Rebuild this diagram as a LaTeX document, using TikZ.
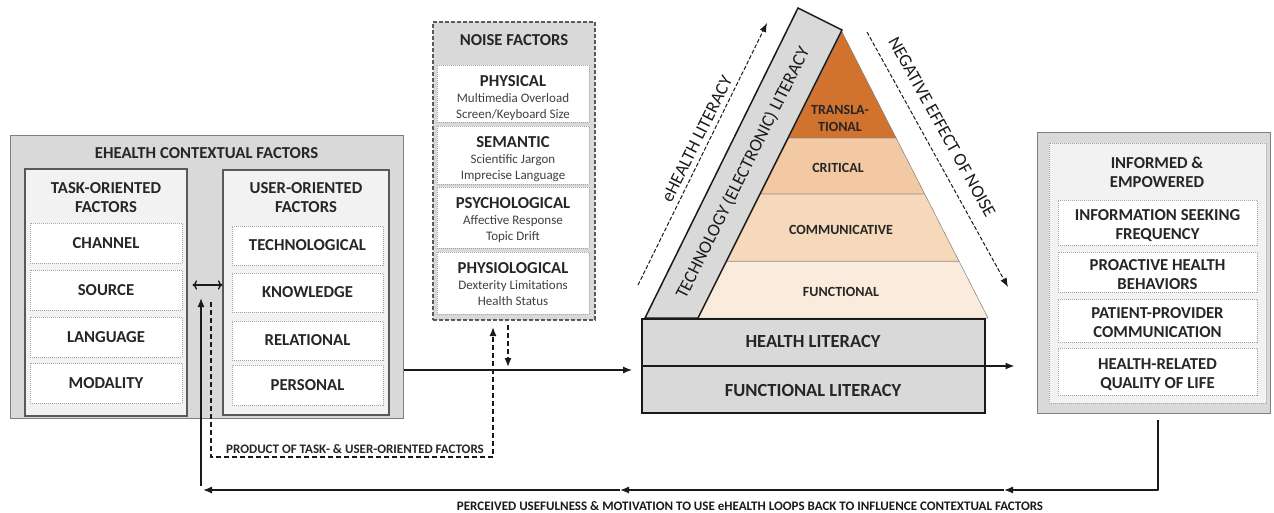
\documentclass[tikz,border=0pt]{standalone}
\usepackage{fontspec}
\setmainfont{Carlito}
\usetikzlibrary{arrows.meta,calc}
\definecolor{gfill}{HTML}{D9D9D9}
\definecolor{gin}{HTML}{F2F2F2}
\definecolor{gline}{HTML}{7F7F7F}
\definecolor{gdark}{HTML}{595959}
\definecolor{gdot}{HTML}{A6A6A6}
\definecolor{txt}{HTML}{262626}
\definecolor{subtxt}{HTML}{404040}
\definecolor{ptrans}{HTML}{D2722F}
\definecolor{pcrit}{HTML}{F2C9A3}
\definecolor{pcomm}{HTML}{F6D8BB}
\definecolor{pfunc}{HTML}{FBEBDC}
\definecolor{ink}{HTML}{1A1A1A}
\newcommand\fsz[2]{\fontsize{#1}{#2}\selectfont}
\begin{document}
\begin{tikzpicture}[x=1pt,y=-1pt,
 outerbox/.style={draw=gline, line width=1pt, fill=gfill, inner sep=0pt},
 groupbox/.style={draw=gdark, line width=1.2pt, fill=gin, inner sep=0pt},
 itembox/.style={draw=gdot, line width=0.7pt, dash pattern=on 1pt off 1pt, fill=white, inner sep=0pt, align=center, text=txt, font=\bfseries\fsz{16.7}{19}},
 ttl/.style={align=center, text=txt, font=\bfseries\fsz{16.7}{19}, inner sep=0pt},
 noisetext/.style={align=center, inner sep=0pt, text=subtxt, font=\fsz{13}{16}},
 lvl/.style={draw=gline, line width=0.5pt},
 lvltext/.style={text=txt, font=\bfseries\fsz{14}{17}, align=center, inner sep=0pt},
 rottext/.style={text=ink, font=\fsz{18}{20}, inner sep=0pt},
 arr/.style={draw=ink, line width=1.3pt, line join=round, -{Latex[length=9pt,width=7pt]}},
 darr/.style={draw=ink, line width=1.3pt, dash pattern=on 5pt off 3pt, -{Latex[length=9pt,width=7pt]}},
 thindarr/.style={draw=ink, line width=1pt, dash pattern=on 4pt off 2pt, -{Latex[length=9pt,width=7pt]}},
 captxt/.style={text=ink, font=\bfseries\fsz{13}{15}, inner sep=0pt},
]
\useasboundingbox (0,0) rectangle (1274,512);

% ---- eHealth contextual factors
\node[outerbox, minimum width=393pt, minimum height=283pt] (ctx) at (206.5,276.5) {};
\node[ttl] (ctxt) at (206.5,153) {EHEALTH CONTEXTUAL FACTORS};
\node[groupbox, minimum width=162pt, minimum height=247pt] (task) at (106,292.5) {};
\node[ttl] (taskt) at (106,197.5) {TASK-ORIENTED\\FACTORS};
\node[groupbox, minimum width=166pt, minimum height=245pt] (user) at (306,292.5) {};
\node[ttl] (usert) at (306,197.5) {USER-ORIENTED\\FACTORS};
\node[itembox, minimum width=152pt, minimum height=40pt] (chan) at (106,243) {CHANNEL};
\node[itembox, minimum width=152pt, minimum height=40pt] (src) at (106,290) {SOURCE};
\node[itembox, minimum width=152pt, minimum height=40pt] (lang) at (106,337) {LANGUAGE};
\node[itembox, minimum width=152pt, minimum height=40pt] (moda) at (106,383) {MODALITY};
\node[itembox, minimum width=151pt, minimum height=39pt] (tech) at (307.5,245.5) {TECHNOLOGICAL};
\node[itembox, minimum width=151pt, minimum height=39pt] (know) at (307.5,292.5) {KNOWLEDGE};
\node[itembox, minimum width=151pt, minimum height=39pt] (rela) at (307.5,340.5) {RELATIONAL};
\node[itembox, minimum width=151pt, minimum height=40pt] (pers) at (307.5,385) {PERSONAL};

% ---- noise factors
\node[outerbox, draw=gdark, dash pattern=on 4pt off 2pt, line width=1.2pt, minimum width=162pt, minimum height=298pt] (noise) at (514,171) {};
\node[ttl] (noiset) at (514,40) {NOISE FACTORS};
\node[itembox, minimum width=152pt, minimum height=57pt] (phys) at (513,93.5) {};
\node[itembox, minimum width=152pt, minimum height=58pt] (sema) at (513,155) {};
\node[itembox, minimum width=152pt, minimum height=61pt] (psyc) at (513,217.5) {};
\node[itembox, minimum width=152pt, minimum height=62pt] (phsl) at (513,283) {};
\node[noisetext] (physt) at (513,98) {{\color{txt}\bfseries\fsz{16.7}{17}PHYSICAL}\\Multimedia Overload\\Screen/Keyboard Size};
\node[noisetext] (semat) at (513,159) {{\color{txt}\bfseries\fsz{16.7}{17}SEMANTIC}\\Scientific Jargon\\Imprecise Language};
\node[noisetext] (psyct) at (513,220.5) {{\color{txt}\bfseries\fsz{16.7}{17}PSYCHOLOGICAL}\\Affective Response\\Topic Drift};
\node[noisetext] (phslt) at (513,284.5) {{\color{txt}\bfseries\fsz{16.7}{17}PHYSIOLOGICAL}\\Dexterity Limitations\\Health Status};

% ---- outcomes
\node[outerbox, minimum width=233pt, minimum height=281pt] (out) at (1153.5,272.5) {};
\node[draw=gdot, dash pattern=on 1pt off 1pt, fill=gin, line width=0.7pt, minimum width=217pt, minimum height=260pt, inner sep=0pt] (outin) at (1157.5,273) {};
\node[ttl] (outt) at (1157,172) {INFORMED \&\\EMPOWERED};
\node[itembox, minimum width=199pt, minimum height=45pt] (isf) at (1157.5,222.5) {};
\node[itembox, minimum width=199pt, minimum height=40pt] (pro) at (1157.5,272) {};
\node[itembox, minimum width=199pt, minimum height=43pt] (ppc) at (1157.5,320.5) {};
\node[itembox, minimum width=199pt, minimum height=47pt] (hrq) at (1157.5,371.5) {};
\node[ttl] (isft) at (1157.5,225.5) {INFORMATION SEEKING\\FREQUENCY};
\node[ttl] (prot) at (1157.5,274.5) {PROACTIVE HEALTH\\BEHAVIORS};
\node[ttl] (ppct) at (1157.5,323) {PATIENT-PROVIDER\\COMMUNICATION};
\node[ttl] (hrqt) at (1157.5,375) {HEALTH-RELATED\\QUALITY OF LIFE};

% ---- pyramid
\coordinate (apex) at (842,32);
\coordinate (bl) at (698,318);
\coordinate (br) at (988,318);
\coordinate (l1) at ($(apex)!0.3706!(bl)$);
\coordinate (r1) at ($(apex)!0.3706!(br)$);
\coordinate (l2) at ($(apex)!0.5664!(bl)$);
\coordinate (r2) at ($(apex)!0.5664!(br)$);
\coordinate (l3) at ($(apex)!0.8007!(bl)$);
\coordinate (r3) at ($(apex)!0.8007!(br)$);
\draw[lvl, fill=pfunc] (l3) -- (r3) -- (br) -- (bl) -- cycle;
\draw[lvl, fill=pcomm] (l2) -- (r2) -- (r3) -- (l3) -- cycle;
\draw[lvl, fill=pcrit] (l1) -- (r1) -- (r2) -- (l2) -- cycle;
\draw[lvl, fill=ptrans] (apex) -- (r1) -- (l1) -- cycle;
\node[lvltext] (ltrans) at (840,118) {TRANSLA-\\TIONAL};
\node[lvltext] (lcrit) at (838,168) {CRITICAL};
\node[lvltext] (lcomm) at (841,230) {COMMUNICATIVE};
\node[lvltext] (lfunc) at (841,292) {FUNCTIONAL};

\draw[line width=1.5pt, draw=ink, fill=gfill, line join=miter] (645,318) -- (698,318) -- (842,30) -- (798,8) -- cycle;
\node[rottext, rotate=63.5] (techlit) at (743,173) {TECHNOLOGY (ELECTRONIC) LITERACY};

\coordinate (e1) at (638,285);
\coordinate (e2) at (767,23);
\draw[thindarr] (e1) -- (e2);
\node[rottext, rotate=63.5] (ehl) at (697,139) {eHEALTH LITERACY};
\coordinate (n1) at (867,32);
\coordinate (n2) at (1008,287);
\draw[thindarr] (n1) -- (n2);
\node[rottext, rotate=-61] (neg) at (942,127) {NEGATIVE EFFECT OF NOISE};

% ---- literacy base
\node[draw=ink, line width=1.8pt, fill=gfill, minimum width=343pt, minimum height=94pt, inner sep=0pt] (lit) at (813.5,366) {};
\node[ttl, font=\bfseries\fsz{18.5}{20}] (hl) at (813,341) {HEALTH LITERACY};
\node[ttl, font=\bfseries\fsz{18.5}{20}] (fl) at (813,390) {FUNCTIONAL LITERACY};
\draw[arr, shorten >=22pt] (lit.west) -- (out.west |- lit.west);

% ---- connectors
\draw[arr, <->, shorten <=5pt] (task.east |- 0,285) -- (user.west |- 0,285);
\draw[arr, shorten >=9pt] (ctx.east |- 0,370) -- (lit.west |- 0,370);

\coordinate (vb) at (201,486);
\coordinate (vt) at (201,298);
\draw[arr] (vb) -- (vt);

\coordinate (p1) at (211,302);
\coordinate (p2) at (211,457);
\coordinate (p3) at (493,457);
\coordinate (p4) at (493,327);
\draw[darr] (p1) -- (p2) -- (p3) -- (p4);
\node[captxt, text=txt] (prod) at (355,449) {PRODUCT OF TASK- \& USER-ORIENTED FACTORS};

\coordinate (q1) at (508,325);
\coordinate (q2) at (508,367);
\draw[darr] (q1) -- (q2);

\coordinate (b0) at (1158,420);
\coordinate (b1) at (1004,490);
\coordinate (b2) at (620,490);
\coordinate (b3) at (203,490);
\draw[arr] (b0) |- (b1);
\draw[arr] (b1) -- (b2);
\draw[arr] (b2) -- (b3);
\node[captxt] (loop) at (750,506) {PERCEIVED USEFULNESS \& MOTIVATION TO USE eHEALTH LOOPS BACK TO INFLUENCE CONTEXTUAL FACTORS};
\end{tikzpicture}
\end{document}
